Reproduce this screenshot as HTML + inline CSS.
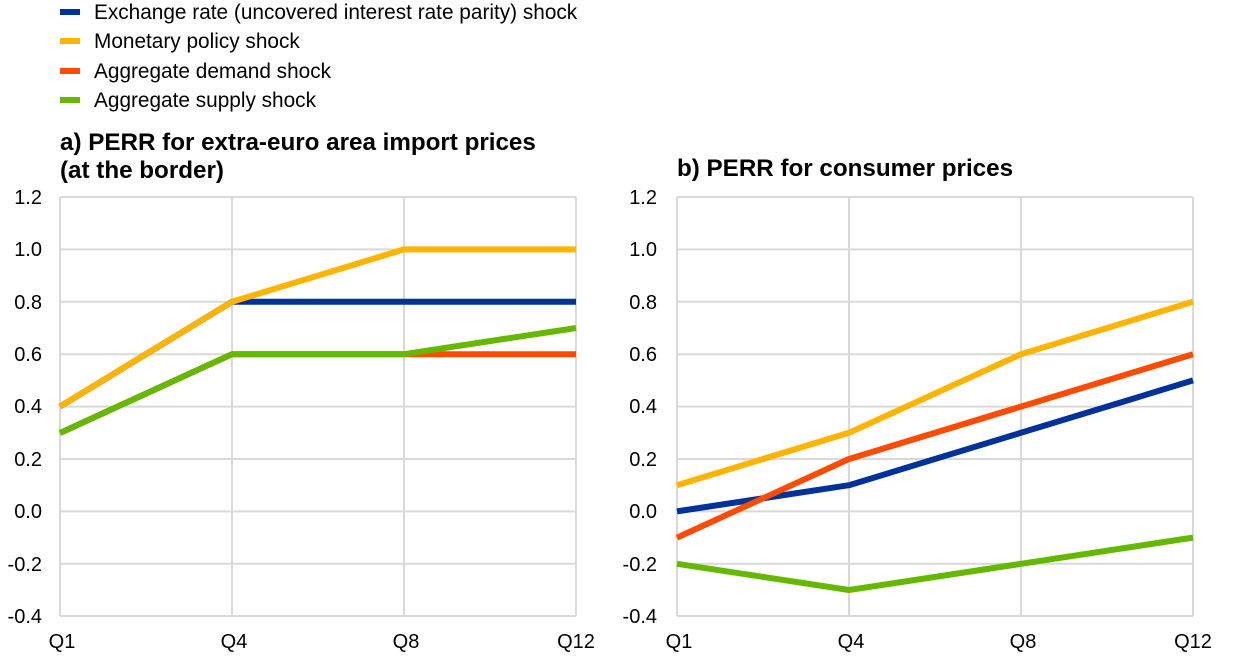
<!DOCTYPE html>
<html><head><meta charset="utf-8"><style>
body{margin:0;background:#fff;}
svg text{font-family:"Liberation Sans",Arial,sans-serif;fill:#000;}
</style></head><body>
<svg width="1240" height="658" viewBox="0 0 1240 658" xmlns="http://www.w3.org/2000/svg">
<g font-size="20.8">
<line x1="60" y1="12" x2="80" y2="12" stroke="#003299" stroke-width="6"/><text x="94" y="19">Exchange rate (uncovered interest rate parity) shock</text>
<line x1="60" y1="41" x2="80" y2="41" stroke="#FFB400" stroke-width="6"/><text x="94" y="48">Monetary policy shock</text>
<line x1="60" y1="71" x2="80" y2="71" stroke="#FF4B00" stroke-width="6"/><text x="94" y="78">Aggregate demand shock</text>
<line x1="60" y1="100" x2="80" y2="100" stroke="#65B800" stroke-width="6"/><text x="94" y="107">Aggregate supply shock</text>
</g>
<g font-size="24.2" font-weight="bold">
<text x="60" y="150">a) PERR for extra-euro area import prices</text>
<text x="60" y="178">(at the border)</text>
<text x="677" y="176">b) PERR for consumer prices</text>
</g>
<g stroke="#d9d9d9" stroke-width="2" fill="none">
<path d="M60 197H576M60 249.4H576M60 301.8H576M60 354.2H576M60 406.6H576M60 459H576M60 511.4H576M60 563.8H576M60 616H576"/>
<path d="M60 197V616M232 197V616M404 197V616M576 197V616"/>
<path d="M677 197H1193M677 249.4H1193M677 301.8H1193M677 354.2H1193M677 406.6H1193M677 459H1193M677 511.4H1193M677 563.8H1193M677 616H1193"/>
<path d="M677 197V616M849 197V616M1021 197V616M1193 197V616"/>
</g>
<g font-size="20" text-anchor="end">
<text x="42" y="204">1.2</text><text x="42" y="256">1.0</text><text x="42" y="309">0.8</text><text x="42" y="361">0.6</text><text x="42" y="413">0.4</text><text x="42" y="466">0.2</text><text x="42" y="518">0.0</text><text x="42" y="571">-0.2</text><text x="42" y="623">-0.4</text>
<text x="657" y="204">1.2</text><text x="657" y="256">1.0</text><text x="657" y="309">0.8</text><text x="657" y="361">0.6</text><text x="657" y="413">0.4</text><text x="657" y="466">0.2</text><text x="657" y="518">0.0</text><text x="657" y="571">-0.2</text><text x="657" y="623">-0.4</text>
</g>
<g font-size="20" text-anchor="middle">
<text x="62" y="648">Q1</text><text x="234" y="648">Q4</text><text x="406" y="648">Q8</text><text x="576" y="648">Q12</text>
<text x="679" y="648">Q1</text><text x="851" y="648">Q4</text><text x="1023" y="648">Q8</text><text x="1193" y="648">Q12</text>
</g>
<g fill="none" stroke-width="6" stroke-linejoin="round">
<polyline stroke="#FF4B00" points="60,433 232,354.2 404,354.2 576,354.2"/>
<polyline stroke="#65B800" points="60,433 232,354.2 404,354.2 576,328"/>
<polyline stroke="#003299" points="60,406.6 232,301.8 404,301.8 576,301.8"/>
<polyline stroke="#FFB400" points="60,406.6 232,301.8 404,249.4 576,249.4"/>
<polyline stroke="#65B800" points="677,563.8 849,590 1021,563.8 1193,537.6"/>
<polyline stroke="#003299" points="677,511.4 849,485.2 1021,432.8 1193,380.4"/>
<polyline stroke="#FF4B00" points="677,537.6 849,459 1021,406.6 1193,354.2"/>
<polyline stroke="#FFB400" points="677,485.2 849,432.8 1021,354.2 1193,301.8"/>
</g>
</svg>
</body></html>
